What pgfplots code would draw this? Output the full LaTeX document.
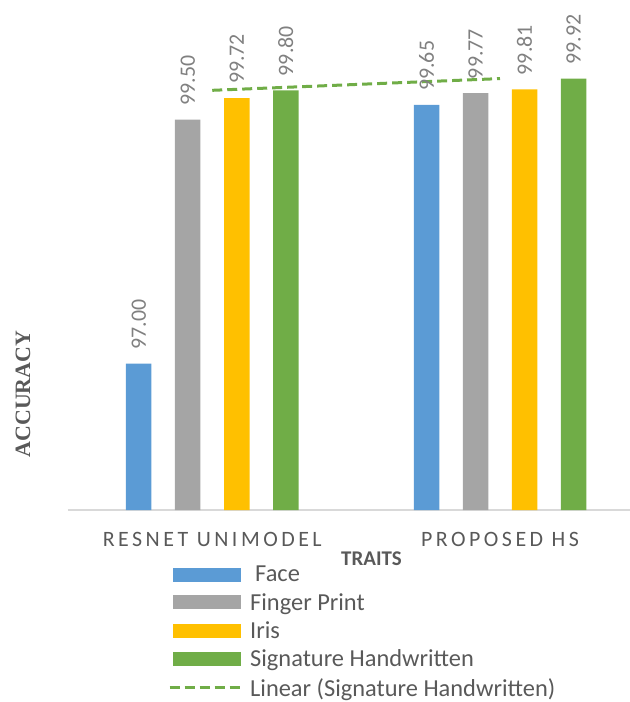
\documentclass[border=0pt]{standalone}
\usepackage{fontspec}
\setmainfont{Carlito}
\newfontfamily\accfont{Liberation Serif}
\usepackage{pgfplots}
\pgfplotsset{compat=1.18}
\definecolor{cBlue}{HTML}{5B9BD5}
\definecolor{cGray}{HTML}{A5A5A5}
\definecolor{cYellow}{HTML}{FFC000}
\definecolor{cGreen}{HTML}{70AD47}
\definecolor{textgray}{HTML}{595959}
\definecolor{labelgray}{HTML}{808080}
\definecolor{axisgray}{HTML}{D9D9D9}
\pgfplotsset{
  lbl/.style={nodes near coords, point meta=explicit symbolic,
    nodes near coords style={xshift=#1, rotate=90, anchor=west, inner sep=0pt, inner xsep=14bp,
      font=\fontsize{22}{26}\selectfont, text=labelgray}},
}
\begin{document}
\begin{tikzpicture}
\useasboundingbox (-68bp,-192bp) rectangle (562bp,510bp);
\begin{axis}[
  at={(0,0)}, anchor=south west,
  x=287.75bp, y=97.6bp,
  xmin=-0.5013, xmax=1.4518, ymin=95.5, ymax=100.725,
  axis y line*=left, axis x line*=bottom,
  y axis line style={draw=none},
  x axis line style={draw=axisgray, line width=1.5bp},
  xtick={0,1}, ytick=\empty, major tick length=0pt,
  xticklabels={RESNET UNIMODEL, PROPOSED HS},
  xticklabel style={font=\fontsize{22}{26}\selectfont\addfontfeature{LetterSpace=16}, text=textgray, anchor=base, yshift=-36bp},
  xlabel={TRAITS},
  xlabel style={at={(axis description cs:0.540,-0.096)}, anchor=center, font=\bfseries\fontsize{21}{25}\selectfont, text=textgray},
  ylabel={ACCURACY},
  ylabel style={at={(axis description cs:-0.080,0.2275)}, anchor=center, font=\accfont\bfseries\fontsize{22}{26}\selectfont, text=textgray},
  clip=false,
  legend style={at={(axis description cs:0.1726,-0.102)}, anchor=north west, draw=none, fill=none,
    font=\fontsize{24.5}{28}\selectfont, text=textgray, cells={anchor=west}, row sep=6bp,
    /tikz/every odd column/.append style={column sep=4bp}},
]
\addplot[ybar, bar width=25.5bp, bar shift=-73.5bp, fill=cBlue, draw=none, lbl=-73.5bp,
  legend image code/.code={\fill[cBlue] (0bp,-7bp) rectangle (68bp,7bp);}]
  coordinates {(0,97.00) [97.00] (1,99.65) [99.65]};
\addlegendentry{\hspace{5bp}Face}
\addplot[ybar, bar width=25.5bp, bar shift=-24.5bp, fill=cGray, draw=none, lbl=-24.5bp,
  legend image code/.code={\fill[cGray] (0bp,-7bp) rectangle (68bp,7bp);}]
  coordinates {(0,99.50) [99.50] (1,99.77) [99.77]};
\addlegendentry{Finger Print}
\addplot[ybar, bar width=25.5bp, bar shift=24.5bp, fill=cYellow, draw=none, lbl=24.5bp,
  legend image code/.code={\fill[cYellow] (0bp,-7bp) rectangle (68bp,7bp);}]
  coordinates {(0,99.72) [99.72] (1,99.81) [99.81]};
\addlegendentry{Iris}
\addplot[ybar, bar width=25.5bp, bar shift=73.5bp, fill=cGreen, draw=none, lbl=73.5bp,
  legend image code/.code={\fill[cGreen] (0bp,-7bp) rectangle (68bp,7bp);}]
  coordinates {(0,99.80) [99.80] (1,99.92) [99.92]};
\addlegendentry{Signature Handwritten}
\addplot[sharp plot, no marks, cGreen, line width=3bp, dash pattern=on 10bp off 5bp,
  legend image code/.code={\draw[cGreen, line width=3bp, dash pattern=on 10bp off 5bp] (-3bp,0bp) -- (70bp,0bp);}]
  coordinates {(0,99.80) (1,99.92)};
\addlegendentry{Linear (Signature Handwritten)}
\end{axis}
\end{tikzpicture}
\end{document}
